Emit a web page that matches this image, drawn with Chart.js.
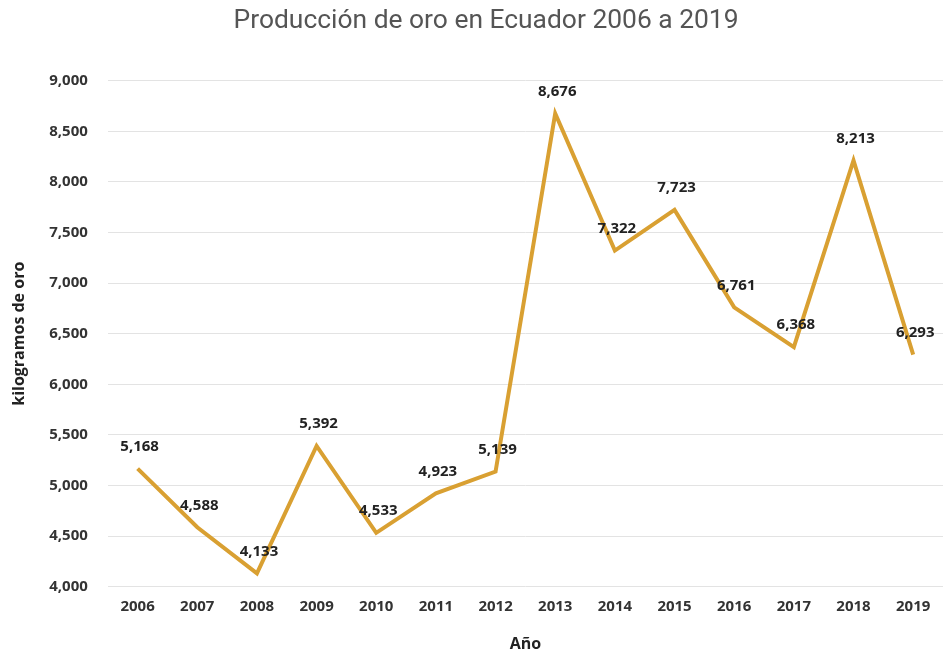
<!DOCTYPE html>
<html>
<head>
<meta charset="utf-8">
<script src="https://cdn.jsdelivr.net/npm/chart.js@4"></script>
<style>
  body { margin: 0; background: #fff; }
  #wrap { width: 943px; height: 654px; }
</style>
</head>
<body>
<div id="wrap"><canvas id="goldChart"></canvas></div>
<script>
// produccion de oro, kg
const years = ['2006', '2007', '2008', '2009', '2010', '2011', '2012', '2013', '2014', '2015', '2016', '2017', '2018', '2019'];
const goldKg = [5168, 4588, 4133, 5392, 4533, 4923, 5139, 8676, 7322, 7723, 6761, 6368, 8213, 6293];

// labels above each point
const pointLabels = {
    id: 'pointLabels',
    afterDatasetsDraw(chart) {
        const ctx = chart.ctx;
        const meta = chart.getDatasetMeta(0);
        ctx.save();
        ctx.font = 'bold 15px "Open Sans"';
        ctx.fillStyle = '#222';
        ctx.textAlign = 'center';
        ctx.textBaseline = 'middle';
        meta.data.forEach(function (pt, i) {
            ctx.fillText(goldKg[i].toLocaleString('en-US'), pt.x + 2, pt.y - 22);
        });
        ctx.restore();
    }
};

new Chart("goldChart", {
    type: "line",
    data: {
        labels: years,
        datasets: [{
            label: "kilogramos de oro",
            data: goldKg,
            fill: false,
            tension: 0,
            borderColor: "#D9A032",
            borderWidth: 4,
            pointRadius: 0
        }]
    },
    options: {
        responsive: true,
        maintainAspectRatio: false,
        animation: false,
        layout: { padding: { top: 6, right: -6, left: 10, bottom: 0 } },
        plugins: {
            legend: { display: false },
            tooltip: { enabled: false },
            title: {
                display: true,
                text: "  Producción de oro en Ecuador 2006 a 2019",
                color: "#555",
                font: { family: "Roboto", size: 26.4, weight: "normal" },
                padding: { top: 0, bottom: 43 }
            }
        },
        scales: {
            x: {
                offset: true,
                grid: { display: false },
                border: { display: false },
                ticks: {
                    color: "#333",
                    font: { family: "Open Sans", size: 15, weight: "bold" },
                    padding: 3
                },
                title: {
                    display: true,
                    text: "Año",
                    color: "#222",
                    font: { family: "Open Sans", size: 16, weight: "bold" },
                    padding: { top: 16, bottom: 0 }
                }
            },
            y: {
                min: 4000,
                max: 9000,
                grid: { color: "#e3e3e3", drawTicks: false },
                border: { display: false },
                ticks: {
                    stepSize: 500,
                    color: "#333",
                    font: { family: "Open Sans", size: 15, weight: "bold" },
                    padding: 20,
                    callback: function (v) { return v.toLocaleString('en-US'); }
                },
                title: {
                    display: true,
                    text: "kilogramos de oro",
                    color: "#222",
                    font: { family: "Open Sans", size: 16, weight: "bold" },
                    padding: { top: 0, bottom: 0 }
                }
            }
        }
    },
    plugins: [pointLabels]
});
</script>
</body>
</html>
